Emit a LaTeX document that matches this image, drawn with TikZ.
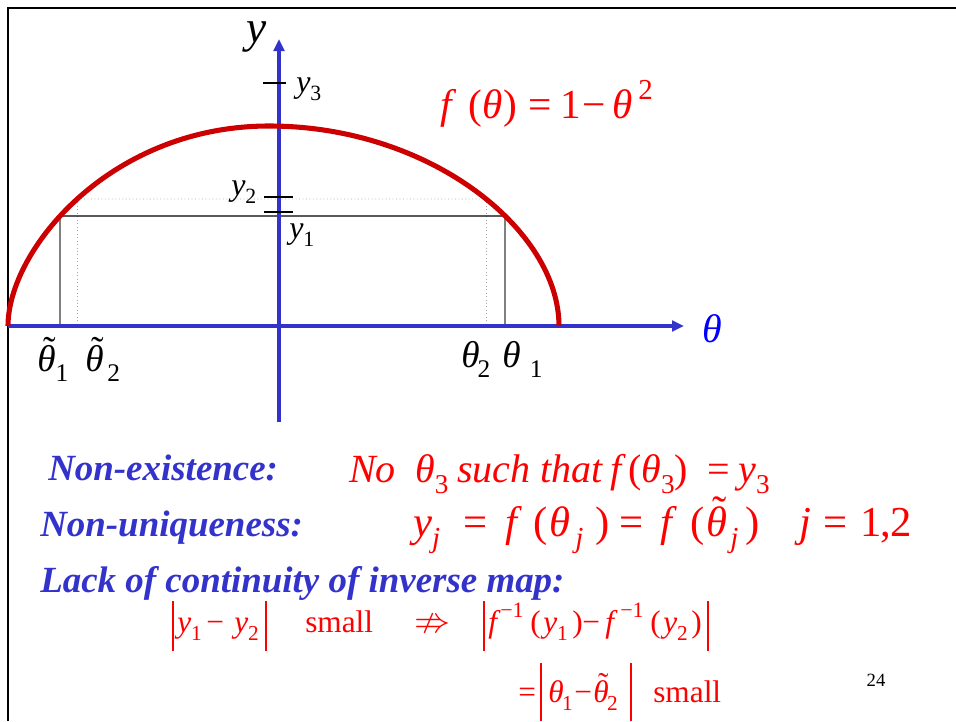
\documentclass[tikz,border=0pt]{standalone}
\usepackage{fontspec}
\usepackage{amssymb}
\usepackage{graphicx}
\setmainfont{Liberation Serif}
\usetikzlibrary{arrows.meta,intersections}
\definecolor{axisblue}{RGB}{51,51,204}
\definecolor{curvered}{RGB}{204,0,0}
\definecolor{txtred}{RGB}{255,0,0}
\definecolor{lblblue}{RGB}{0,0,255}
\definecolor{txtblue}{RGB}{51,51,204}
\newcommand\sbs[1]{\raisebox{-0.28em}{\scalebox{0.68}{\upshape #1}}}
\newcommand\sbi[1]{\raisebox{-0.28em}{\scalebox{0.68}{\itshape #1}}}
\newcommand\sps[1]{\raisebox{0.45em}{\scalebox{0.7}{\upshape #1}}}
\newcommand\tld[1]{\ooalign{#1\cr\hidewidth\kern0.15em\raisebox{0.24em}{\upshape\char"02DC}\hidewidth\cr}}
\newcommand\absb[2]{\rule[-#1]{0.045em}{#2}}
\newcommand\U[1]{\textup{#1}}
\newcommand\fs[1]{\fontsize{#1}{#1}\selectfont}
\newcommand\pc[2]{\makebox[\dimexpr #1pt*3/4\relax][l]{#2}}
\begin{document}
\begin{tikzpicture}[x=0.75pt,y=-0.75pt,
  axis/.style={draw=axisblue,line width=2.3pt,-{Triangle[length=9pt,width=8pt]}},
  frameline/.style={draw=black,line width=2.2pt},
  blk/.style={text=black,inner sep=0pt,anchor=base west},
  head/.style={text=txtblue,inner sep=0pt,anchor=base west,font=\fs{27.7pt}\bfseries\itshape},
  redf/.style={text=txtred,inner sep=0pt,anchor=base west},
  tick/.style={draw=black,line width=1.6pt}]
\useasboundingbox (0,0) rectangle (956,721);
% frame
\coordinate (fTL) at (8,8);
\coordinate (fTR) at (956,8);
\coordinate (fBL) at (8,721);
\draw[frameline] (fBL) -- (fTL) -- (fTR);
% curve
\path[name path=curve] (8,326) .. controls (8,250) and (110,126) .. (269,126)
  .. controls (430,126) and (559,230) .. (559,326);
\path[name path=lineA] (0,216) -- (600,216);
\path[name path=lineB] (0,199) -- (600,199);
\path[name intersections={of=curve and lineA,name=ia,sort by=lineA}];
\path[name intersections={of=curve and lineB,name=ib,sort by=lineB}];
\coordinate (a1) at (ia-1|-0,326);
\coordinate (a2) at (ia-2|-0,326);
\coordinate (b1) at (ib-1|-0,326);
\coordinate (b2) at (ib-2|-0,326);
\draw[gray!70,line width=0.6pt,dotted] (ib-1) -- (ib-2);
\draw[gray!70,line width=0.6pt,dotted] (ib-1) -- (b1);
\draw[gray!70,line width=0.6pt,dotted] (ib-2) -- (b2);
\draw[black,line width=0.8pt] (ia-1) -- (ia-2);
\draw[gray,line width=1.1pt] (ia-1) -- (a1);
\draw[gray,line width=1.1pt] (ia-2) -- (a2);
% axes
\coordinate (xs) at (8,326);
\coordinate (xe) at (684,326);
\coordinate (ys) at (279,422);
\coordinate (ye) at (279,39);
\draw[axis] (xs) -- (xe);
\draw[axis] (ys) -- (ye);
\draw[draw=curvered,line width=3.8pt] (8,326) .. controls (8,250) and (110,126) .. (269,126)
  .. controls (430,126) and (559,230) .. (559,326);
% ticks
\coordinate (t3a) at (263,83); \coordinate (t3b) at (286,83);
\coordinate (t2a) at (264,197); \coordinate (t2b) at (293,197);
\coordinate (t1a) at (264,212); \coordinate (t1b) at (293,212);
\draw[tick,line width=1.4pt] (t3a) -- (t3b);
\draw[tick,line width=2.2pt] (t2a) -- (t2b);
\draw[tick,line width=2.2pt] (t1a) -- (t1b);
% labels
\node[blk,font=\fs{34pt}\itshape] (ylab) at (246,42) {y};
\node[blk,font=\fs{30pt}\itshape,text=lblblue] (thlab) at (702,342) {θ};
\node[blk,font=\fs{24pt}\itshape] (y3lab) at (296,92) {y\sbs{3}};
\node[blk,font=\fs{24pt}\itshape] (y2lab) at (231,195) {y\sbs{2}};
\node[blk,font=\fs{24pt}\itshape] (y1lab) at (289,238) {y\sbs{1}};
\node[blk,font=\fs{28pt}\itshape] (tt1) at (37,371) {\tld{θ}\sbs{1}};
\node[blk,font=\fs{28pt}\itshape] (tt2) at (85,371) {\tld{θ}\kern0.1em\sbs{2}};
\node[blk,font=\fs{28pt}\itshape] (th2) at (461,367) {θ\kern-0.05em\sbs{2}};
\node[blk,font=\fs{28pt}\itshape] (th1) at (502,367) {θ\kern0.25em\sbs{1}};
\node[redf,font=\fs{31pt}\itshape] (fdef) at (440,118) {\pc{28}{f}\pc{14}{\U{(}}\pc{21}{θ}\pc{25}{\U{)}}\pc{32}{\U{=}}\pc{22}{\U{1}}\pc{30}{\U{−}}\pc{26}{θ}\sps{2}};
% text rows
\node[head] (h1) at (48,480) {Non-existence:};
\node[redf,font=\fs{30pt}\itshape] (r1) at (349,482) {\pc{66}{No}\pc{42}{θ\sbs{3}}\pc{153}{such that}\pc{97}{f\,\U{(}θ\sbs{3}\U{)}}\pc{31}{\U{=}}y\sbs{3}};
\node[head] (h2) at (40,536) {Non-uniqueness:};
\node[redf,font=\fs{32pt}\itshape] (r2) at (413,536) {\pc{50}{y\sbi{j}}\pc{42}{\U{=}}\pc{28}{f}\pc{16}{\U{(}}\pc{26}{θ}\pc{20}{\sbi{j}}\pc{24}{\U{)}}\pc{41}{\U{=}}\pc{30}{f}\pc{16}{\U{(}}\pc{24}{\tld{θ}}\pc{15}{\sbi{j}}\pc{54}{\U{)}}\pc{24}{j}\pc{37}{\U{=}}\pc{20}{\U{1}}\pc{10}{\U{,}}\U{2}};
\node[head] (h3) at (40,592) {Lack of continuity of inverse map:};
\node[redf,font=\fs{23.5pt}\itshape] (r3) at (172,632) {\pc{5}{\absb{0.62em}{1.6em}}\pc{29}{y\sbs{1}}\pc{28}{\U{−}}\pc{31}{y\sbs{2}}\pc{40}{\absb{0.62em}{1.6em}}\pc{109}{\U{small}}\pc{69}{\scalebox{1.15}{$\nRightarrow$}}\pc{5}{\absb{0.62em}{1.6em}}\pc{12}{f}\pc{30}{\sps{−1}}\pc{13}{\U{(}}\pc{29}{y\sbs{1}}\pc{10}{\U{)}}\pc{23}{\U{−}}\pc{15}{f}\pc{30}{\sps{−1}}\pc{13}{\U{(}}\pc{28}{y\sbs{2}}\pc{16}{\U{)}}\absb{0.62em}{1.6em}};
\node[redf,font=\fs{23.5pt}\itshape] (r4) at (518,702) {\pc{22}{\U{=}}\pc{8}{\absb{0.62em}{1.85em}}\pc{26}{θ\kern-0.05em\sbs{1}}\pc{19}{\U{−}}\pc{37}{\tld{θ}\kern-0.05em\sbs{2}}\pc{23}{\absb{0.62em}{1.85em}}\U{small}};
\node[text=black,inner sep=0pt,font=\fs{14pt}] (pg) at (876,680) {24};
\end{tikzpicture}
\end{document}
